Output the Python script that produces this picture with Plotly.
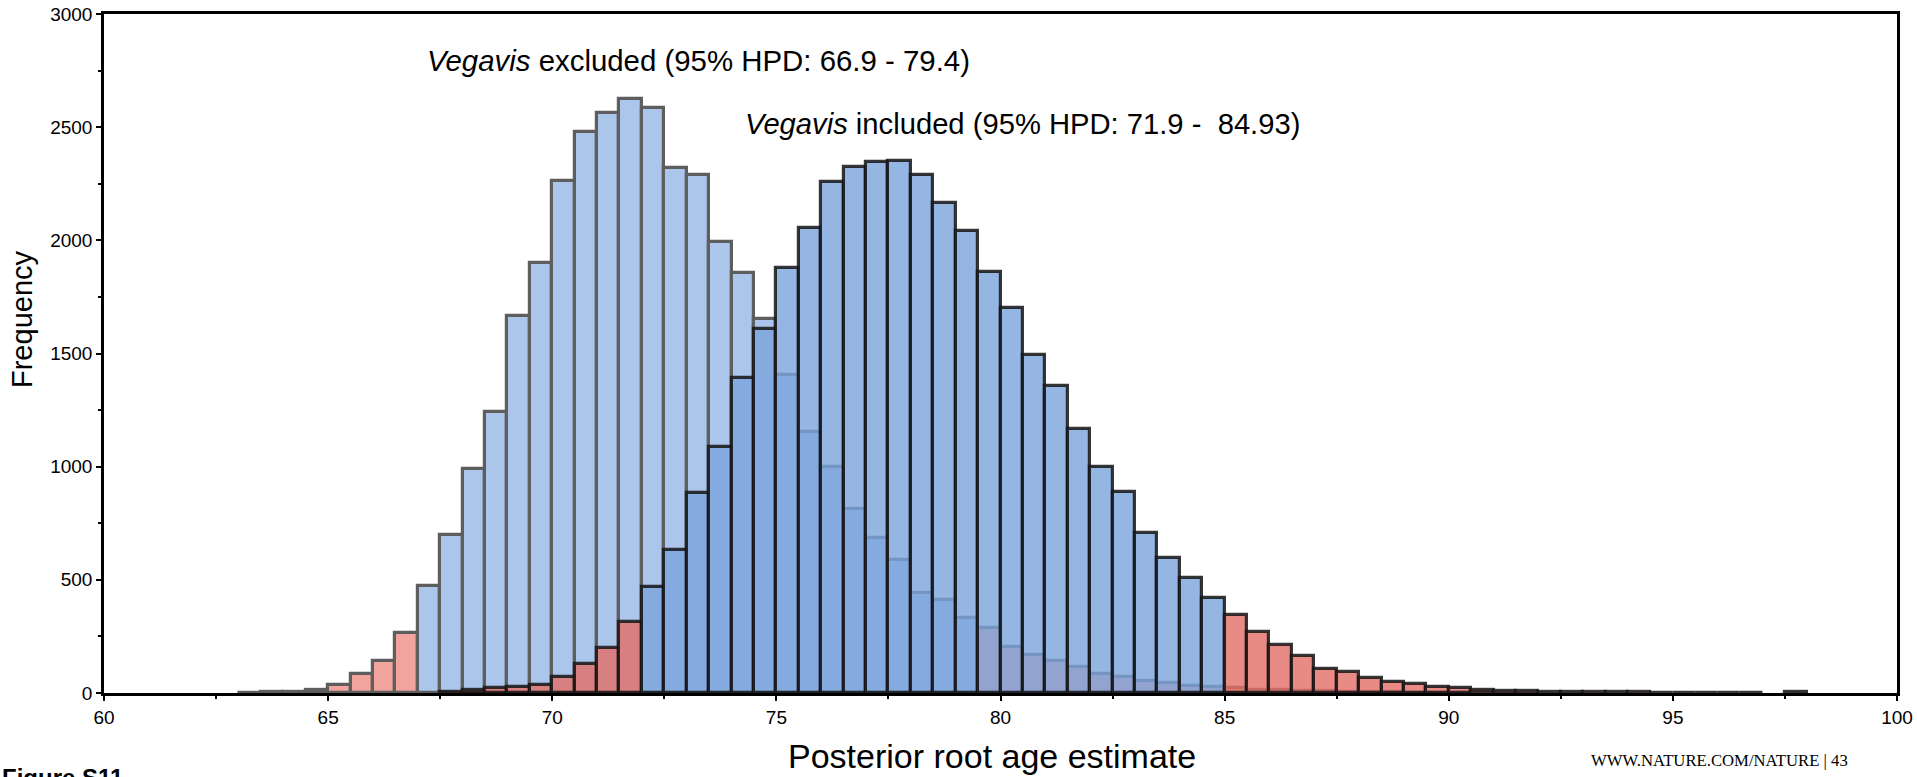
import plotly.graph_objects as go

# ---------------- data ----------------
BIN_START = 60.0
BIN_WIDTH = 0.5
N_BINS = 80
bin_centers = [BIN_START + BIN_WIDTH * (i + 0.5) for i in range(N_BINS)]

# Vegavis excluded (drawn first)
excluded_counts = [
    0, 0, 0, 0, 0, 0, 2, 3, 5, 15,
    37, 86, 143, 266, 474, 698, 990, 1243, 1666, 1898,
    2264, 2480, 2564, 2623, 2583, 2318, 2289, 1994, 1854, 1651,
    1405, 1155, 997, 814, 684, 588, 440, 411, 333, 289,
    205, 168, 143, 116, 84, 72, 54, 43, 31, 25,
    20, 15, 12, 9, 7, 5, 4, 3, 2, 2,
    1, 0, 0, 0, 0, 0, 0, 0, 0, 0,
    0, 0, 0, 0, 0, 0, 0, 0, 0, 0,
]
excluded_hpd = [66.9, 79.4]

# Vegavis included (drawn on top)
included_counts = [
    0, 0, 0, 0, 0, 0, 0, 0, 0, 0,
    0, 0, 0, 0, 0, 5, 14, 20, 27, 35,
    72, 127, 197, 312, 470, 632, 885, 1086, 1390, 1608,
    1876, 2053, 2259, 2325, 2347, 2350, 2289, 2163, 2041, 1862,
    1700, 1493, 1356, 1166, 1000, 886, 706, 598, 509, 418,
    344, 268, 210, 163, 107, 92, 68, 47, 38, 28,
    22, 12, 10, 8, 6, 5, 4, 3, 3, 2,
    2, 2, 2, 2, 0, 4, 0, 0, 0, 0,
]
included_hpd = [71.9, 84.93]

x_ticks = [60, 65, 70, 75, 80, 85, 90, 95, 100]
y_ticks = [0, 500, 1000, 1500, 2000, 2500, 3000]

label_excluded = "<i>Vegavis</i> excluded (95% HPD: 66.9 - 79.4)"
label_included = "<i>Vegavis</i> included (95% HPD: 71.9 -\u00a0 84.93)"

# ---------------- styling ----------------
W, H = 1917, 777
L, R, T, B = 104, 20, 14, 84
PW, PH = W - L - R, H - T - B

EXC_BLUE = "#abc5eb"
EXC_RED = "#f1a39d"
EXC_EDGE = "#5e5e5e"
INC_BLUE = "rgba(122,162,220,0.8)"
INC_RED = "rgba(228,110,102,0.8)"
INC_EDGE = "rgba(20,20,20,0.85)"
SANS = "Liberation Sans, Arial, Helvetica, sans-serif"


def colours(hpd, inside, outside):
    return [inside if hpd[0] <= c <= hpd[1] else outside for c in bin_centers]


def clean(vals):
    return [v if v > 0 else None for v in vals]


def px_x(px):
    return (px - L) / PW


def px_y(py):
    return (H - B - py) / PH


fig = go.Figure()
fig.add_trace(go.Bar(
    x=bin_centers, y=clean(excluded_counts), width=BIN_WIDTH,
    marker=dict(color=colours(excluded_hpd, EXC_BLUE, EXC_RED),
                line=dict(color=EXC_EDGE, width=3.2)),
    name="Vegavis excluded", showlegend=False,
))
fig.add_trace(go.Bar(
    x=bin_centers, y=clean(included_counts), width=BIN_WIDTH,
    marker=dict(color=colours(included_hpd, INC_BLUE, INC_RED),
                line=dict(color=INC_EDGE, width=3.2)),
    name="Vegavis included", showlegend=False,
))

axis_common = dict(
    showgrid=False, zeroline=False, showline=True, linecolor="black",
    linewidth=2.5, mirror=True, ticks="outside", ticklen=5, tickwidth=2,
    tickcolor="black", tickfont=dict(family=SANS, size=19, color="black"),
    automargin=False,
)
fig.update_xaxes(range=[60, 100], tickvals=x_ticks,
                 minor=dict(dtick=2.5, ticks="outside", ticklen=3, tickwidth=2, tickcolor="black"),
                 **axis_common)
fig.update_yaxes(range=[0, 3000], tickvals=y_ticks,
                 minor=dict(dtick=250, ticks="outside", ticklen=3, tickwidth=2, tickcolor="black"),
                 **axis_common)

annotations = [
    dict(x=67.15, y=2793, xref="x", yref="y", text=label_excluded, showarrow=False,
         xanchor="left", yanchor="middle", font=dict(family=SANS, size=29.4, color="black")),
    dict(x=74.25, y=2516, xref="x", yref="y", text=label_included, showarrow=False,
         xanchor="left", yanchor="middle", font=dict(family=SANS, size=29.2, color="black")),
    dict(x=px_x(992), y=px_y(756), xref="paper", yref="paper", text="Posterior root age estimate",
         showarrow=False, xanchor="center", yanchor="middle",
         font=dict(family=SANS, size=34, color="black")),
    dict(x=px_x(22), y=px_y(319), xref="paper", yref="paper", text="Frequency", textangle=-90,
         showarrow=False, xanchor="center", yanchor="middle",
         font=dict(family=SANS, size=29, color="black")),
    dict(x=px_x(0), y=px_y(762), xref="paper", yref="paper", text="<b>Figure S11</b>",
         showarrow=False, xanchor="left", yanchor="top",
         font=dict(family=SANS, size=24, color="black")),
    dict(x=px_x(1589), y=px_y(760), xref="paper", yref="paper", text="WWW.NATURE.COM/NATURE | 43",
         showarrow=False, xanchor="left", yanchor="middle",
         font=dict(family="Liberation Serif, Times New Roman, serif", size=16.7, color="black")),
]

fig.update_layout(
    width=W, height=H, autosize=False,
    margin=dict(l=L, r=R, t=T, b=B),
    barmode="overlay", bargap=0,
    plot_bgcolor="white", paper_bgcolor="white",
    annotations=annotations,
)

fig.write_html("out.html")
